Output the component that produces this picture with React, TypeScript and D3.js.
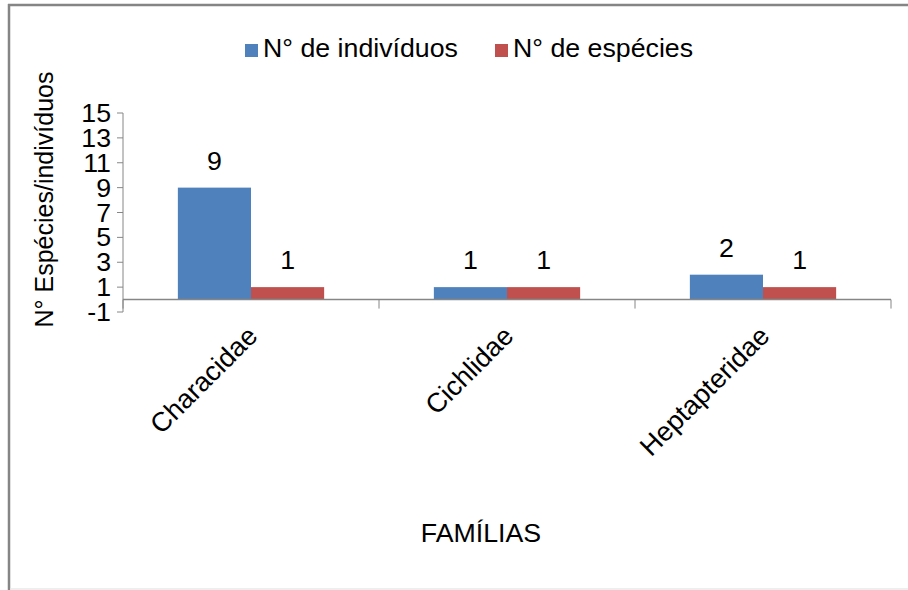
import React from "react";
import * as d3 from "d3";

const familias = ["Characidae", "Cichlidae", "Heptapteridae"];
const individuos = [9, 1, 2];
const especies = [1, 1, 1];
const yTicks = [-1, 1, 3, 5, 7, 9, 11, 13, 15];

const series = [
  { name: "N° de indivíduos", values: individuos, color: "#4F81BD" },
  { name: "N° de espécies", values: especies, color: "#C0504D" },
];

const FONT = "'Liberation Sans', Arial, sans-serif";
const SX = 1.07; // the source picture is slightly wider than tall

// horizontal text, a little stretched like the original
function HText({ x, y, anchor = "start", size = 25, children }: any) {
  return (
    <text transform={`translate(${x},${y}) scale(${SX},1)`} fontSize={size}
      textAnchor={anchor} fill="#000">{children}</text>
  );
}

export default function App() {
  const width = 908;
  const height = 590;
  const plot = { left: 123, right: 891, top: 113, bottom: 312 };

  const x = d3.scaleBand<string>()
    .domain(familias)
    .range([plot.left, plot.right])
    .paddingInner(0)
    .paddingOuter(0);

  // gap width 150%: two bars + 1.5 bar widths of gap per category
  const barW = x.bandwidth() / 3.5;

  const y = d3.scaleLinear().domain([-1, 15]).range([plot.bottom, plot.top]);

  const catTicks = [...familias.map(f => x(f) as number), plot.right];

  return (
    <div style={{ position: "absolute", left: 0, top: 0 }}>
      <svg width={width} height={height} style={{ display: "block", fontFamily: FONT }}>
        <rect x={0} y={0} width={width} height={height} fill="#fff" />
        {/* chart frame */}
        <line x1={9} x2={9} y1={4} y2={590} stroke="#858585" strokeWidth={2.5} />
        <line x1={8} x2={908} y1={5} y2={5} stroke="#858585" strokeWidth={2.5} />
        <line x1={10} x2={908} y1={589} y2={589} stroke="#e8e8e8" strokeWidth={1.5} />

        {/* legend */}
        {series.map((s, i) => {
          const lx = i === 0 ? 245 : 495;
          return (
            <g key={s.name}>
              <rect x={lx} y={44} width={13} height={13} fill={s.color} />
              <HText x={lx + 18} y={57}>{s.name}</HText>
            </g>
          );
        })}

        {/* y axis */}
        <line x1={plot.left} x2={plot.left} y1={plot.top} y2={plot.bottom} stroke="#868686" strokeWidth={1} />
        {yTicks.map(t => (
          <g key={t}>
            <line x1={plot.left - 6} x2={plot.left} y1={y(t)} y2={y(t)} stroke="#868686" />
            <HText x={111} y={y(t) + 9} anchor="end">{t}</HText>
          </g>
        ))}

        {/* bars */}
        {familias.map((f, i) => {
          const cx = (x(f) as number) + x.bandwidth() / 2;
          return series.map((s, j) => {
            const bx = cx - barW + j * barW;
            const v = s.values[i];
            return (
              <g key={f + s.name}>
                <rect x={bx} y={y(v)} width={barW} height={y(0) - y(v)} fill={s.color} />
                <HText x={bx + barW / 2} y={y(v) - 18} anchor="middle">{v}</HText>
              </g>
            );
          });
        })}

        {/* x axis at zero */}
        <line x1={plot.left} x2={plot.right} y1={y(0)} y2={y(0)} stroke="#868686" strokeWidth={1.5} />
        {catTicks.map(t => (
          <line key={t} x1={t} x2={t} y1={y(0)} y2={y(0) + 9} stroke="#868686" />
        ))}
        {familias.map(f => {
          const cx = (x(f) as number) + x.bandwidth() / 2;
          return (
            <text key={f} transform={`translate(${cx + 8},${y(0) + 38}) rotate(-45)`}
              fontSize={27} textAnchor="end" fill="#000">{f}</text>
          );
        })}

        {/* axis titles */}
        <text transform={`translate(53,${(plot.top + plot.bottom) / 2 - 13}) rotate(-90)`}
          fontSize={25} textAnchor="middle" fill="#000">N°  Espécies/indivíduos</text>
        <HText x={481} y={542} anchor="middle">FAMÍLIAS</HText>
      </svg>
    </div>
  );
}
